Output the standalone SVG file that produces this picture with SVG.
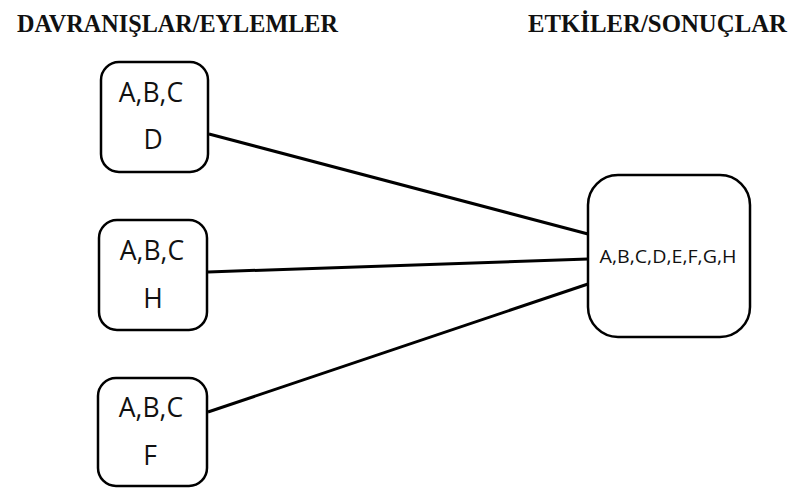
<svg xmlns="http://www.w3.org/2000/svg" width="792" height="489" viewBox="0 0 792 489">
<style>
.title{font-family:"Liberation Serif","Times New Roman",serif;font-weight:bold;font-size:25px;fill:#111}
.box{fill:#fff;stroke:#000;stroke-width:2.5}
.lbl{font-family:"Open Sans","Liberation Sans",sans-serif;font-size:26.5px;fill:#111;text-anchor:middle}
.lbls{font-family:"Open Sans","Liberation Sans",sans-serif;font-size:18px;fill:#111;text-anchor:middle}
.conn{stroke:#000;stroke-width:3;fill:none}
</style>
<rect width="792" height="489" fill="#fff"/>
<text class="title" x="17" y="32" textLength="321" lengthAdjust="spacingAndGlyphs">DAVRANIŞLAR/EYLEMLER</text>
<text class="title" x="528" y="32" textLength="259" lengthAdjust="spacingAndGlyphs">ETKİLER/SONUÇLAR</text>
<g id="connectors">
<line class="conn" x1="209" y1="134" x2="588" y2="234"/>
<line class="conn" x1="208" y1="272" x2="588" y2="259"/>
<line class="conn" x1="208" y1="412" x2="588" y2="284"/>
</g>
<g id="node-d">
<rect class="box" x="101" y="62" width="107" height="110" rx="18"/>
<text class="lbl" x="151" y="102">A,B,C</text>
<text class="lbl" x="153" y="149">D</text>
</g>
<g id="node-h">
<rect class="box" x="99" y="220" width="108" height="110" rx="18"/>
<text class="lbl" x="152" y="260">A,B,C</text>
<text class="lbl" x="153" y="308">H</text>
</g>
<g id="node-f">
<rect class="box" x="98" y="378" width="109" height="108" rx="18"/>
<text class="lbl" x="151" y="417">A,B,C</text>
<text class="lbl" x="150" y="465">F</text>
</g>
<g id="node-result">
<rect class="box" x="588" y="175" width="162" height="162" rx="30"/>
<text class="lbls" x="668" y="263" textLength="137" lengthAdjust="spacingAndGlyphs">A,B,C,D,E,F,G,H</text>
</g>
</svg>
